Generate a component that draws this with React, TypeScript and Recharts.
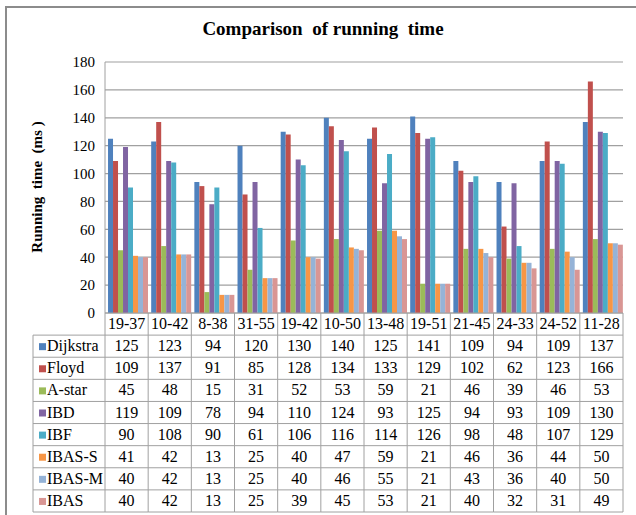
import React from 'react';
import { BarChart, Bar, XAxis, YAxis, CartesianGrid } from 'recharts';

const categories = ['19-37', '10-42', '8-38', '31-55', '19-42', '10-50', '13-48', '19-51', '21-45', '24-33', '24-52', '11-28'];
const dijkstra = [125, 123, 94, 120, 130, 140, 125, 141, 109, 94, 109, 137];
const floyd = [109, 137, 91, 85, 128, 134, 133, 129, 102, 62, 123, 166];
const aStar = [45, 48, 15, 31, 52, 53, 59, 21, 46, 39, 46, 53];
const ibd = [119, 109, 78, 94, 110, 124, 93, 125, 94, 93, 109, 130];
const ibf = [90, 108, 90, 61, 106, 116, 114, 126, 98, 48, 107, 129];
const ibasS = [41, 42, 13, 25, 40, 47, 59, 21, 46, 36, 44, 50];
const ibasM = [40, 42, 13, 25, 40, 46, 55, 21, 43, 36, 40, 50];
const ibas = [40, 42, 13, 25, 39, 45, 53, 21, 40, 32, 31, 49];
const yTicks = [0, 20, 40, 60, 80, 100, 120, 140, 160, 180];

const series = [
  { key: 'Dijkstra', values: dijkstra, color: '#4F81BD' },
  { key: 'Floyd', values: floyd, color: '#C0504D' },
  { key: 'A-star', values: aStar, color: '#9BBB59' },
  { key: 'IBD', values: ibd, color: '#8064A2' },
  { key: 'IBF', values: ibf, color: '#4BACC6' },
  { key: 'IBAS-S', values: ibasS, color: '#F79646' },
  { key: 'IBAS-M', values: ibasM, color: '#95B3D7' },
  { key: 'IBAS', values: ibas, color: '#D99694' },
];

const data = categories.map((cat, i) => {
  const row: Record<string, any> = { cat };
  series.forEach((s) => {
    row[s.key] = s.values[i];
  });
  return row;
});

const W = 636;
const H = 515;
const M = { top: 62, right: 13, bottom: 3, left: 0 };
const Y_W = 105;
const X_H = 199;
const COL_W = (W - M.left - M.right - Y_W) / categories.length;
const ROW_H = X_H / (series.length + 1);
const LEGEND_W = 72;
const FONT = '"Liberation Serif", "Times New Roman", Times, serif';
const LINE = '#A0A0A0';
const txt = { fontFamily: FONT, fontSize: 16, fill: '#000' };

function TableTick(props: any) {
  const { x, y, payload, index } = props;
  const left = x - COL_W / 2;
  const right = x + COL_W / 2;
  const rows = series.length + 1;
  const els: React.ReactNode[] = [];
  els.push(
    <text key="h" x={x} y={y + ROW_H / 2 + 5} textAnchor="middle" style={txt}>
      {payload.value}
    </text>
  );
  series.forEach((s, i) => {
    els.push(
      <text key={'v' + i} x={x} y={y + ROW_H * (i + 1) + ROW_H / 2 + 5} textAnchor="middle" style={txt}>
        {s.values[index]}
      </text>
    );
  });
  els.push(<line key="vl" x1={left} x2={left} y1={y} y2={y + ROW_H * rows} stroke={LINE} strokeWidth={1} />);
  if (index === categories.length - 1) {
    els.push(<line key="vr" x1={right} x2={right} y1={y} y2={y + ROW_H * rows} stroke={LINE} strokeWidth={1} />);
  }
  for (let k = 1; k <= rows; k++) {
    els.push(<line key={'hl' + k} x1={left} x2={right} y1={y + ROW_H * k} y2={y + ROW_H * k} stroke={LINE} strokeWidth={1} />);
  }
  if (index === 0) {
    const lx = left - LEGEND_W;
    els.push(<line key="ll" x1={lx} x2={lx} y1={y + ROW_H} y2={y + ROW_H * rows} stroke={LINE} strokeWidth={1} />);
    for (let k = 1; k <= rows; k++) {
      els.push(<line key={'lh' + k} x1={lx} x2={left} y1={y + ROW_H * k} y2={y + ROW_H * k} stroke={LINE} strokeWidth={1} />);
    }
    series.forEach((s, i) => {
      const cy = y + ROW_H * (i + 1) + ROW_H / 2;
      els.push(<rect key={'sq' + i} x={lx + 6} y={cy - 3} width={7} height={7} fill={s.color} />);
      els.push(
        <text key={'ln' + i} x={lx + 14} y={cy + 5} style={txt}>
          {s.key}
        </text>
      );
    });
  }
  return <g>{els}</g>;
}

function YLabel() {
  return (
    <text x={37} y={187} transform="rotate(-90 37 187)" textAnchor="middle" dominantBaseline="central" style={{ fontFamily: FONT, fontSize: 15, fontWeight: 'bold', fill: '#000', whiteSpace: 'pre' }}>
      {'Running  time  (ms )'}
    </text>
  );
}

export default function App() {
  return (
    <div style={{ position: 'absolute', left: 0, top: 0, width: W, height: H, background: '#fff' }}>
      <div style={{ position: 'absolute', left: 5, top: 6, width: W - 5, height: H - 6, borderTop: '2px solid #8c8c8c', borderLeft: '2px solid #8c8c8c', boxSizing: 'border-box' }} />
      <div style={{ position: 'absolute', left: 0, top: 18, width: 646, textAlign: 'center', fontFamily: FONT, fontSize: 19, fontWeight: 'bold', color: '#000', whiteSpace: 'pre' }}>
        {'Comparison  of running  time'}
      </div>
      <div style={{ position: 'absolute', left: 0, top: 0 }}>
        <BarChart width={W} height={H} data={data} margin={M} barCategoryGap="7%" barGap={0}>
          <CartesianGrid vertical={false} stroke={LINE} strokeWidth={1.2} />
          <XAxis dataKey="cat" height={X_H} interval={0} tickLine={false} tickSize={0} tickMargin={0} axisLine={{ stroke: LINE }} tick={<TableTick />} />
          <YAxis width={Y_W} domain={[0, 180]} ticks={yTicks} tickLine={false} tickSize={0} tickMargin={10} axisLine={{ stroke: LINE }} tick={{ style: { fontFamily: FONT, fontSize: 15 }, fill: '#000' }} label={<YLabel />} />
          {series.map((s) => (
            <Bar key={s.key} dataKey={s.key} fill={s.color} isAnimationActive={false} />
          ))}
        </BarChart>
      </div>
    </div>
  );
}
